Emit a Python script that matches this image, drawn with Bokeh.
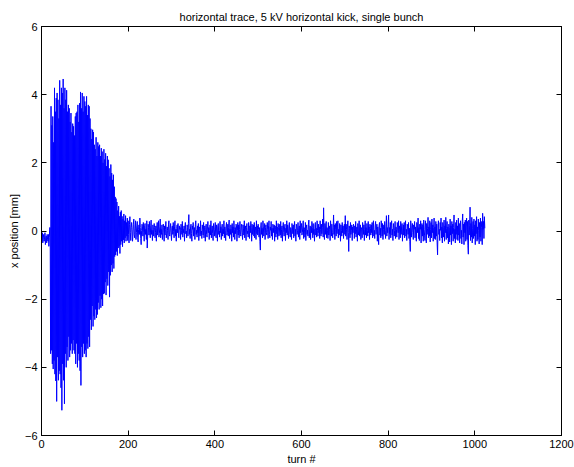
from bokeh.plotting import figure
from bokeh.models import LinearAxis, FixedTicker, Range1d, ColumnDataSource
from bokeh.embed import file_html
from bokeh.resources import INLINE

title_text = "horizontal trace, 5 kV horizontal kick, single bunch"
x_label = "turn #"
y_label = "x position [mm]"
x_ticks = [0, 200, 400, 600, 800, 1000, 1200]
y_ticks = [-6, -4, -2, 0, 2, 4, 6]
y_tick_labels = {-6: "\u22126", -4: "\u22124", -2: "\u22122", 0: "0", 2: "2", 4: "4", 6: "6"}

# turns 0-19: before the kick
pre_kick = [-0.15, -0.3, -0.05, -0.35, -0.2, -0.1, -0.3, -0.25, -0.05, -0.4,
            -0.2, -0.15, -0.35, -0.1, -0.25, -0.3, -0.1, -0.45, -0.2, 0.1]

# turns 20-199: kicked oscillation and its decay
kicked = [0.1, -3.6, 3.66, -3.5, 3.1, -3.9, 3.36, -4.05, 2.6, -3.8,
          4.2, -4.2, 3.5, -4.4, 3.9, -5.0, 4.05, -3.7, 3.85, -4.38,
          3.3, -4.1, 4.42, -4.2, 3.7, -4.6, 4.2, -5.26, 4.05, -3.9,
          4.46, -4.38, 3.6, -5.07, 4.2, -3.6, 3.85, -4.0, 4.13, -3.4,
          3.5, -3.8, 3.7, -3.1, 3.6, -3.7, 3.2, -3.5, 3.46, -3.3,
          2.9, -3.6, 3.15, -3.2, 3.07, -3.5, 2.8, -3.6, 3.36, -3.9,
          3.46, -3.3, 3.5, -4.0, 3.7, -3.6, 3.2, -3.8, 3.75, -4.1,
          4.08, -4.53, 3.6, -3.4, 4.05, -3.7, 3.5, -3.3, 3.95, -3.6,
          3.8, -3.5, 3.66, -3.7, 3.95, -3.3, 3.4, -3.45, 3.7, -3.1,
          3.66, -3.4, 3.3, -2.6, 3.0, -2.9, 2.7, -2.2, 2.97, -2.8,
          2.9, -2.5, 2.53, -2.6, 2.4, -2.3, 2.75, -2.55, 2.2, -2.45,
          2.6, -2.1, 2.48, -2.3, 2.53, -1.9, 2.2, -2.25, 2.43, -2.0,
          2.33, -2.2, 2.0, -1.85, 2.4, -1.83, 2.1, -1.5, 2.28, -1.88,
          1.9, -1.4, 2.2, -1.6, 2.09, -1.2, 1.84, -1.94, 1.6, -1.3,
          1.95, -1.0, 1.7, -1.2, 1.5, -0.95, 1.65, -1.1, 1.3, -0.75,
          1.0, -0.7, 0.95, -0.6, 0.85, -0.72, 0.6, -0.5, 0.73, -0.45,
          0.43, -0.66, 0.55, -0.4, 0.6, -0.3, 0.43, -0.46, 0.35, -0.26,
          0.5, -0.35, 0.3, -0.2, 0.45, -0.3, 0.25, -0.15, 0.38, -0.28]

# turns 200-1023: residual noise
residual = [
    0.3, -0.1, -0.35, 0.2, 0.42, -0.05, -0.28, 0.1, 0.25, 0.05, -0.3, -0.15, 0.2, 0.35, -0.1, -0.2, 0.08, 0.3, -0.25, -0.05,
    0.15, 0.28, -0.2, -0.32, 0.05, 0.18, -0.1, 0.38, 0.1, -0.22, -0.4, 0.02, 0.2, 0.12, -0.15, 0.25, -0.05, -0.3, 0.15, 0.22,
    -0.1, 0.05, -0.25, 0.3, -0.5, -0.15, 0.2, 0.1, -0.12, 0.28, -0.05, -0.2, 0.15, 0.32, -0.1, 0.02, -0.28, 0.18, 0.05, -0.15,
    0.22, 0.1, -0.2, -0.05, 0.15, -0.3, 0.08, 0.25, -0.12, 0.0, 0.3, -0.18, -0.08, 0.12, 0.35, -0.2, 0.05, -0.1, 0.18, -0.25,
    -0.05, 0.2, 0.1, -0.3, 0.15, -0.12, 0.05, 0.28, -0.2, -0.08, 0.12, 0.02, -0.25, 0.18, 0.3, -0.1, -0.15, 0.08, 0.22, -0.05,
    -0.28, 0.1, 0.15, -0.1, 0.25, -0.02, -0.2, 0.12, 0.3, -0.15, 0.05, -0.3, 0.08, 0.18, -0.05, 0.22, -0.12, -0.2, 0.15, 0.05,
    0.1, -0.25, 0.2, 0.02, -0.1, 0.28, -0.18, 0.05, -0.05, 0.15, -0.3, 0.12, 0.25, -0.08, 0.0, -0.2, 0.18, 0.1, -0.15, 0.22,
    0.48, -0.1, 0.05, -0.22, 0.12, 0.2, -0.08, -0.3, 0.15, 0.05, 0.25, -0.15, -0.05, 0.1, -0.25, 0.18, 0.3, -0.1, 0.02, -0.18,
    0.15, -0.05, 0.22, -0.28, 0.08, 0.12, -0.15, 0.3, -0.1, 0.0, -0.22, 0.18, 0.05, -0.12, 0.25, -0.2, 0.1, 0.15, -0.3, 0.05,
    0.2, -0.1, -0.18, 0.12, 0.28, -0.05, 0.1, -0.25, 0.02, 0.18, -0.12, 0.3, -0.2, 0.05, 0.15, -0.08, -0.28, 0.22, 0.1, -0.15,
    0.05, 0.25, -0.12, -0.2, 0.18, 0.08, -0.3, 0.15, 0.22, -0.1, 0.0, -0.18, 0.28, -0.05, 0.12, -0.25, 0.1, 0.2, -0.15, 0.05,
    -0.08, 0.3, -0.2, 0.12, 0.02, -0.28, 0.15, 0.25, -0.12, -0.05, 0.2, -0.15, 0.1, 0.32, -0.22, 0.05, -0.1, 0.18, 0.08, -0.3,
    0.22, -0.05, 0.12, -0.18, 0.3, 0.05, -0.25, 0.1, -0.08, 0.2, 0.15, -0.3, 0.02, 0.25, -0.12, 0.18, -0.2, 0.05, 0.28, -0.1,
    -0.15, 0.12, 0.2, -0.05, -0.25, 0.18, 0.08, -0.12, 0.3, -0.2, 0.05, 0.15, -0.28, 0.1, 0.22, -0.08, 0.0, -0.18, 0.25, 0.1,
    -0.22, 0.15, -0.05, 0.28, 0.1, -0.3, 0.2, -0.1, 0.05, 0.18, -0.15, 0.25, -0.2, 0.02, 0.12, -0.25, 0.3, -0.08, 0.15, -0.12,
    0.2, 0.05, -0.18, 0.1, -0.3, -0.56, 0.15, 0.25, -0.1, 0.08, -0.2, 0.3, 0.12, -0.15, 0.02, 0.22, -0.25, 0.1, 0.18, -0.05,
    -0.12, 0.25, 0.05, -0.22, 0.15, 0.3, -0.1, -0.2, 0.12, 0.02, 0.28, -0.15, 0.08, -0.25, 0.2, 0.1, -0.05, 0.18, -0.3, 0.15,
    0.05, -0.18, 0.3, -0.08, 0.12, -0.25, 0.22, 0.1, -0.15, 0.0, 0.2, -0.12, 0.28, -0.2, 0.05, 0.15, -0.3, 0.1, 0.25, -0.05,
    -0.15, 0.12, 0.2, -0.28, 0.08, -0.05, 0.3, -0.12, 0.18, 0.02, -0.22, 0.15, 0.25, -0.1, -0.18, 0.1, 0.05, -0.25, 0.22, 0.12,
    -0.08, 0.18, -0.2, 0.1, 0.28, -0.15, 0.05, -0.3, 0.2, 0.12, -0.1, 0.02, 0.25, -0.18, 0.08, 0.15, -0.25, 0.3, -0.05, 0.1,
    0.22, -0.12, -0.05, 0.15, 0.3, -0.22, 0.1, 0.05, -0.18, 0.25, -0.28, 0.08, 0.18, -0.1, 0.02, -0.15, 0.2, 0.32, -0.2, 0.0,
    0.15, -0.25, 0.12, -0.05, 0.28, 0.1, -0.2, 0.22, -0.1, 0.05, -0.3, 0.18, 0.25, -0.12, 0.08, -0.18, 0.3, 0.02, -0.15, 0.2,
    -0.05, 0.12, -0.22, 0.3, 0.05, -0.15, 0.2, -0.08, 0.1, 0.35, -0.18, 0.68, -0.05, -0.25, 0.22, -0.1, 0.15, 0.28, -0.2, 0.1,
    0.02, -0.22, 0.25, -0.12, 0.15, 0.05, -0.28, 0.3, 0.12, -0.15, 0.2, -0.05, -0.2, 0.1, 0.47, -0.1, 0.18, -0.25, 0.22, 0.05,
    -0.15, 0.28, -0.08, 0.12, 0.3, -0.2, 0.05, -0.12, 0.22, 0.1, -0.3, 0.18, 0.02, -0.15, 0.25, -0.05, 0.15, -0.22, 0.1, 0.2,
    -0.1, 0.45, -0.15, 0.2, 0.05, -0.25, 0.12, 0.3, -0.05, -0.6, 0.15, 0.08, -0.2, 0.25, -0.1, 0.02, 0.18, -0.28, 0.12, -0.05,
    0.2, 0.1, -0.22, 0.15, -0.08, 0.28, -0.18, 0.05, 0.12, -0.3, 0.22, 0.0, -0.12, 0.3, -0.15, 0.08, 0.18, -0.25, 0.1, 0.05,
    -0.2, 0.25, 0.12, -0.1, 0.18, -0.28, 0.05, 0.3, -0.12, 0.1, -0.2, 0.22, 0.02, -0.15, 0.28, -0.05, 0.12, -0.25, 0.2, 0.08,
    -0.12, 0.18, -0.05, 0.25, -0.2, 0.1, 0.3, -0.15, 0.02, -0.22, 0.15, 0.28, -0.1, 0.05, 0.2, -0.3, 0.12, -0.08, -0.4, 0.15,
    0.25, -0.12, 0.08, -0.2, 0.3, 0.1, -0.15, 0.22, -0.25, 0.05, 0.18, -0.1, 0.28, 0.02, -0.22, 0.12, 0.45, -0.15, 0.1, -0.05,
    0.2, 0.47, -0.25, 0.1, -0.08, 0.25, -0.2, 0.15, 0.3, -0.12, 0.05, -0.28, 0.22, 0.1, -0.15, 0.02, 0.28, -0.22, 0.12, 0.05,
    -0.18, 0.25, 0.1, -0.05, 0.3, -0.25, 0.15, 0.05, -0.2, 0.28, -0.1, 0.12, 0.22, -0.3, 0.08, 0.18, -0.12, 0.25, -0.2, 0.1,
    0.3, -0.15, 0.05, -0.28, 0.2, 0.12, -0.1, 0.25, -0.22, 0.08, -0.3, -0.6, 0.3, 0.15, -0.18, 0.1, 0.22, -0.05, -0.25, 0.18,
    0.05, 0.28, -0.2, 0.12, -0.1, -0.3, 0.25, 0.15, -0.05, 0.38, -0.22, 0.1, -0.28, 0.2, 0.05, 0.3, -0.35, 0.12, 0.22, -0.15,
    0.18, -0.3, 0.32, 0.05, -0.12, -0.28, 0.3, 0.15, -0.35, 0.22, -0.1, 0.08, 0.4, -0.2, 0.12, -0.15, 0.3, -0.32, 0.05, 0.25,
    -0.2, 0.35, -0.05, 0.18, -0.3, 0.1, 0.38, -0.22, 0.12, -0.25, 0.28, -0.15, 0.2, -0.35, -0.7, 0.15, 0.3, -0.1, 0.05, -0.28,
    0.25, 0.02, 0.38, -0.2, 0.12, -0.35, 0.25, 0.1, -0.18, 0.32, -0.3, 0.15, -0.05, 0.4, -0.25, 0.08, 0.28, -0.2, 0.12, -0.38,
    0.2, 0.1, -0.32, 0.35, -0.12, 0.15, -0.4, 0.28, -0.08, 0.2, -0.3, 0.1, 0.47, -0.22, 0.05, -0.35, 0.25, -0.1, 0.32, -0.25,
    0.15, -0.28, 0.38, -0.12, 0.22, -0.35, 0.1, 0.3, -0.22, 0.02, -0.38, 0.28, 0.5, -0.18, 0.2, -0.4, 0.25, -0.05, 0.32, -0.3,
    0.12, 0.38, -0.25, 0.28, -0.42, -0.68, 0.32, -0.12, 0.15, 0.7, -0.28, 0.22, -0.18, 0.4, -0.35, 0.08, 0.28, -0.22, 0.35, -0.15,
    0.18, -0.4, 0.3, -0.08, 0.42, -0.3, 0.12, -0.25, 0.35, 0.02, -0.38, 0.25, -0.18, 0.38, -0.3, 0.1, 0.28, -0.4, 0.52, 0.05,
    0.28, -0.22, 0.42, 0.08]

xpos = pre_kick + kicked + residual
turns = list(range(len(xpos)))

FONT = "Liberation Sans"
FS = "11px"

p = figure(width=574, height=467, output_backend="svg", toolbar_location=None,
           x_range=Range1d(0, 1200), y_range=Range1d(-6, 6),
           min_border_left=41, min_border_right=13, min_border_top=26, min_border_bottom=31,
           background_fill_color="white", border_fill_color="white")
p.outline_line_color = "black"
p.outline_line_width = 1
p.grid.visible = False

p.title.text = title_text
p.title.align = "center"
p.title.text_font = FONT
p.title.text_font_size = FS
p.title.text_font_style = "normal"
p.title.text_color = "black"
p.title.standoff = 8


def style_axis(ax, ticks, show_labels):
    ax.ticker = FixedTicker(ticks=ticks)
    ax.major_tick_in = 5
    ax.major_tick_out = 0
    ax.minor_tick_line_color = None
    ax.axis_line_color = "black"
    ax.major_tick_line_color = "black"
    ax.major_label_text_font = FONT
    ax.major_label_text_font_size = FS
    ax.major_label_text_color = "black"
    ax.axis_label_text_font = FONT
    ax.axis_label_text_font_size = FS
    ax.axis_label_text_font_style = "normal"
    ax.axis_label_text_color = "black"
    if show_labels:
        ax.major_label_standoff = 4
        ax.axis_label_standoff = 2
    else:
        ax.major_label_overrides = {t: "" for t in ticks}
        ax.major_label_standoff = 0


style_axis(p.xaxis[0], x_ticks, True)
style_axis(p.yaxis[0], y_ticks, True)
p.xaxis[0].axis_label = x_label
p.yaxis[0].axis_label = y_label
p.yaxis[0].major_label_overrides = y_tick_labels

top_axis = LinearAxis()
style_axis(top_axis, x_ticks, False)
p.add_layout(top_axis, "above")
right_axis = LinearAxis()
style_axis(right_axis, y_ticks, False)
p.add_layout(right_axis, "right")

src = ColumnDataSource(dict(turn=turns, x=xpos))
p.line("turn", "x", source=src, line_color="#0000ff", line_width=1)

open("out.html", "w").write(file_html(p, INLINE))
